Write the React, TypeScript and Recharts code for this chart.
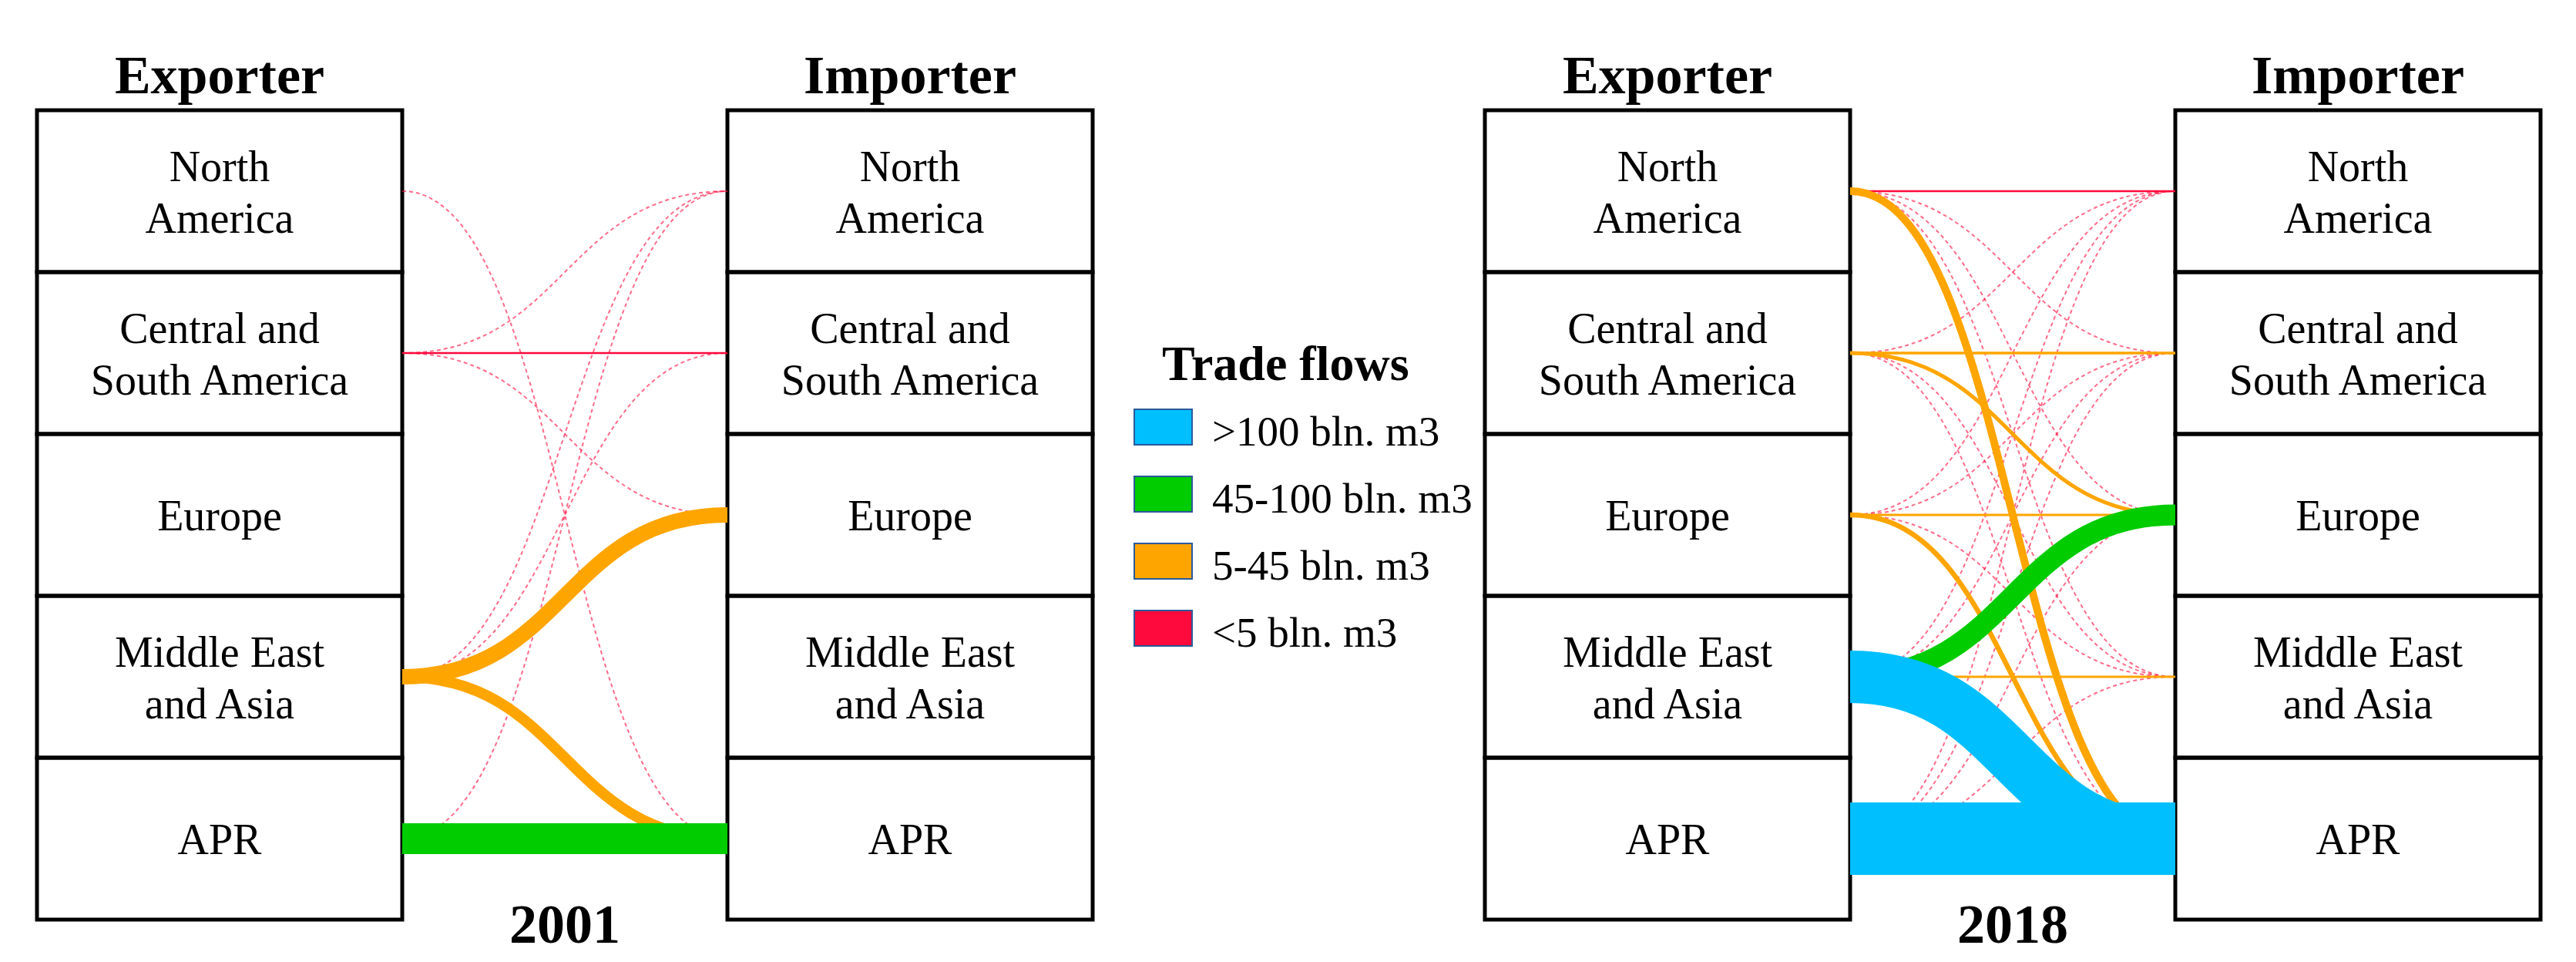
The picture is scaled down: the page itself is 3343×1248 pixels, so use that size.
import React from "react";
import { ComposedChart, Line, XAxis, YAxis, ReferenceArea } from "recharts";

const REGIONS = ["NA", "CSA", "EU", "MEA", "APR"];
const REGION_LABELS = [
  ["North", "America"],
  ["Central and", "South America"],
  ["Europe"],
  ["Middle East", "and Asia"],
  ["APR"],
];

// [exporter, importer, bln. m3]
const FLOWS_2001: [string, string, number][] = [
  ["NA", "APR", 1],
  ["CSA", "NA", 1],
  ["CSA", "CSA", 3],
  ["CSA", "EU", 1],
  ["MEA", "NA", 1],
  ["MEA", "CSA", 1],
  ["APR", "NA", 1],
  ["MEA", "EU", 40],
  ["MEA", "APR", 28],
  ["APR", "APR", 80],
];

const FLOWS_2018: [string, string, number][] = [
  ["NA", "NA", 3],
  ["NA", "CSA", 1],
  ["NA", "EU", 1],
  ["NA", "MEA", 1],
  ["CSA", "NA", 1],
  ["CSA", "MEA", 1],
  ["CSA", "APR", 1],
  ["EU", "NA", 1],
  ["EU", "CSA", 1],
  ["EU", "MEA", 1],
  ["MEA", "NA", 1],
  ["MEA", "CSA", 1],
  ["APR", "NA", 1],
  ["APR", "CSA", 1],
  ["APR", "EU", 1],
  ["APR", "MEA", 1],
  ["NA", "APR", 20],
  ["EU", "APR", 13],
  ["CSA", "EU", 10],
  ["CSA", "CSA", 7],
  ["EU", "EU", 6],
  ["MEA", "MEA", 6],
  ["MEA", "EU", 54],
  ["MEA", "APR", 136],
  ["APR", "APR", 188],
];

const YEARS = ["2001", "2018"];
const LEGEND_TITLE = "Trade flows";
const LEGEND_LABELS = [">100 bln. m3", "45-100 bln. m3", "5-45 bln. m3", "<5 bln. m3"];
const CLASS_COLORS = ["#00bfff", "#00cc00", "#ffa500", "#ff0a3c"];
const CLASS_LIMITS = [100, 45, 5];

const FONT = '"Liberation Serif", "Times New Roman", serif';

// layout (px)
const PLOT_TOP = 143;
const PLOT_H = 1050;
const BOX_PX = 474;
const GAP_PX = 422;
const PLOT_W = BOX_PX * 2 + GAP_PX;
const PAD = 10;
const BOX_W = BOX_PX / GAP_PX; // box width in gap units
const PANEL_LEFT = [48, 1927];

const classOf = (v: number) => {
  const i = CLASS_LIMITS.findIndex((l) => v > l);
  return i === -1 ? CLASS_LIMITS.length : i;
};

function BoxLabel(props: any) {
  const { viewBox, lines } = props;
  if (!viewBox) return null;
  const cx = viewBox.x + viewBox.width / 2;
  const cy = viewBox.y + viewBox.height / 2;
  return (
    <text textAnchor="middle" fontFamily={FONT} fontSize={56} fill="#000">
      {lines.map((t: string, i: number) => (
        <tspan key={i} x={cx} y={lines.length === 1 ? cy + 20 : cy - 13.5 + i * 67}>
          {t}
        </tspan>
      ))}
    </text>
  );
}

function FlowPanel({ flows, left }: { flows: [string, string, number][]; left: number }) {
  const sorted = [...flows].sort((a, b) => a[2] - b[2]);
  return (
    <div style={{ position: "absolute", left: left - PAD, top: PLOT_TOP - PAD }}>
      <ComposedChart
        width={PLOT_W + 2 * PAD}
        height={PLOT_H + 2 * PAD}
        margin={{ top: PAD, right: PAD, bottom: PAD, left: PAD }}
      >
        <XAxis type="number" dataKey="x" domain={[-BOX_W, 1 + BOX_W]} hide allowDataOverflow />
        <YAxis type="number" dataKey="y" domain={[0, REGIONS.length]} reversed hide allowDataOverflow />
        {sorted.map(([from, to, v], k) => {
          const c = classOf(v);
          const dotted = c === 3 && v < 2;
          return (
            <Line
              key={`flow-${k}`}
              data={[
                { x: 0, y: REGIONS.indexOf(from) + 0.5 },
                { x: 1, y: REGIONS.indexOf(to) + 0.5 },
              ]}
              dataKey="y"
              type="bumpX"
              stroke={CLASS_COLORS[c]}
              strokeWidth={dotted ? 2 : Math.max(2.5, v / 2)}
              strokeOpacity={dotted ? 0.6 : 1}
              strokeDasharray={dotted ? "5 4" : undefined}
              dot={false}
              activeDot={false}
              legendType="none"
              isAnimationActive={false}
            />
          );
        })}
        {REGIONS.map((r, i) => (
          <ReferenceArea
            key={`exp-${r}`}
            x1={-BOX_W}
            x2={0}
            y1={i}
            y2={i + 1}
            fill="#fff"
            fillOpacity={0}
            stroke="#000"
            strokeWidth={5}
            label={<BoxLabel lines={REGION_LABELS[i]} />}
          />
        ))}
        {REGIONS.map((r, i) => (
          <ReferenceArea
            key={`imp-${r}`}
            x1={1}
            x2={1 + BOX_W}
            y1={i}
            y2={i + 1}
            fill="#fff"
            fillOpacity={0}
            stroke="#000"
            strokeWidth={5}
            label={<BoxLabel lines={REGION_LABELS[i]} />}
          />
        ))}
      </ComposedChart>
    </div>
  );
}

export default function App() {
  return (
    <div style={{ position: "absolute", left: 0, top: 0, width: 3343, height: 1248, background: "#fff" }}>
      <FlowPanel flows={FLOWS_2001} left={PANEL_LEFT[0]} />
      <FlowPanel flows={FLOWS_2018} left={PANEL_LEFT[1]} />
      <svg
        width={3343}
        height={1248}
        style={{ position: "absolute", left: 0, top: 0, pointerEvents: "none" }}
      >
        {PANEL_LEFT.map((l, p) => (
          <g key={p} fontFamily={FONT} fontWeight="bold" textAnchor="middle" fill="#000">
            <text x={l + BOX_PX / 2} y={121} fontSize={70}>Exporter</text>
            <text x={l + BOX_PX + GAP_PX + BOX_PX / 2} y={121} fontSize={70}>Importer</text>
            <text x={l + BOX_PX + GAP_PX / 2} y={1223} fontSize={72}>{YEARS[p]}</text>
          </g>
        ))}
        <text x={1508} y={493} fontFamily={FONT} fontWeight="bold" fontSize={64} fill="#000">
          {LEGEND_TITLE}
        </text>
        {LEGEND_LABELS.map((t, i) => (
          <g key={t}>
            <rect x={1472} y={531 + i * 87} width={75} height={46} fill={CLASS_COLORS[i]} stroke="#2a5a9a" strokeWidth={2} />
            <text x={1573} y={578 + i * 87} fontFamily={FONT} fontSize={55} fill="#000">
              {t}
            </text>
          </g>
        ))}
      </svg>
    </div>
  );
}
